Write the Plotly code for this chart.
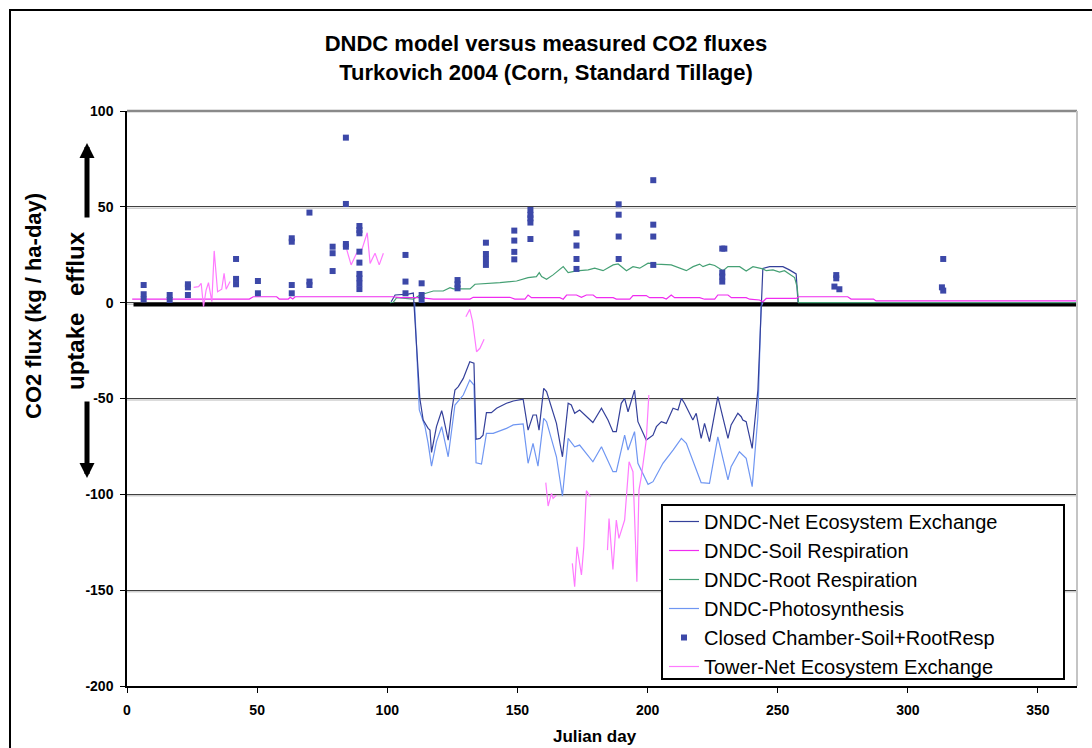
import plotly.graph_objects as go

# ---------------- data ----------------
# DNDC - Net Ecosystem Exchange
nee_day = [101.5, 103, 108, 110, 112.5, 113.8, 115.7, 116.4, 117, 118.9, 120.9, 121.5, 123.4, 124.7, 126, 127.3,
           129.2, 131.7, 133.3, 134.1, 135.6, 136.8, 138.1, 140, 142, 145.8, 148.4, 152.2, 154.1, 156, 157.3,
           158.3, 160.1, 161.2, 165, 167.3, 169.5, 170.7, 172, 173.9, 179, 182.3, 184.8, 186.7, 188, 189.9,
           191.2, 192.5, 195, 196.3, 199.5, 202.1, 203.4, 205.3, 207.2, 209.8, 211.7, 213, 214.2, 217.4,
           218.7, 220.6, 221.9, 223.8, 227, 230.9, 232.1, 234.7, 236, 236.6, 237.9, 240.2, 242.4, 243.6,
           244.3, 246.9, 252, 254.5, 256.5, 257.1, 257.8]
nee_val = [0.5, 4.0, 4.5, 5.0, -49.9, -61.2, -65.6, -66.5, -78.1, -64.7, -56.4, -59.5, -71.7, -56.9, -45.6, -43.8,
           -39.5, -30.8, -31.6, -71.3, -70.8, -69.1, -57.4, -57.4, -55.1, -52.5, -51.3, -50.4, -66.5, -58.6, -58.6,
           -66.5, -44.7, -46.4, -63.0, -80.4, -52.5, -53.4, -57.7, -56.0, -62.5, -55.1, -61.2, -67.3, -67.3, -52.5,
           -49.9, -56.9, -45.6, -62.1, -71.7, -69.1, -64.7, -62.1, -63.0, -55.1, -56.0, -49.9, -52.5, -61.2,
           -57.7, -70.8, -63.0, -72.5, -49.0, -70.8, -63.8, -57.7, -59.5, -61.2, -62.1, -76.0, -45.6, -2.1,
           17.9, 18.8, 18.8, 17.1, 15.4, 15.0, 0.3]

# DNDC - Soil Respiration
soil_day = [2, 47, 48.5, 57.5, 58.5, 62, 62.7, 63.7, 64.6, 102, 105, 112.6, 117.7, 131.8, 133, 147.1, 149, 152.9,
            154.1, 155.4, 166.3, 167.6, 168.9, 172.7, 174.6, 176.5, 179.1, 180.4, 186.8, 188, 193.2, 194.4,
            199.5, 200.8, 205.9, 207.2, 209.1, 210.4, 220, 221.9, 225.8, 227, 230.9, 232.2, 237.9, 239.2,
            243, 244.3, 245.6, 257.1, 258.1, 276.9, 278.2, 286.8, 287.8, 365]
soil_val = [1.9, 1.9, 3.1, 3.1, 1.9, 1.9, 2.8, 1.9, 3.1, 3.1, 2.6, 2.6, 1.9, 1.9, 2.8, 2.8, 1.9, 1.9,
            4.0, 2.6, 2.6, 1.8, 4.0, 4.0, 2.8, 4.0, 4.0, 2.6, 2.6, 1.9, 1.9, 3.7,
            3.7, 2.6, 2.6, 1.9, 4.0, 2.6, 2.6, 1.8, 1.8, 4.0, 4.0, 2.6, 2.6, 1.8,
            1.4, 0.5, 2.2, 2.2, 3.1, 3.1, 1.9, 1.9, 0.9, 0.9]

# DNDC - Root Respiration
root_day = [101, 102.3, 103.6, 110, 112.6, 117.7, 121.5, 124.1, 125.4, 131.8, 133.7, 142, 143.3, 149.7, 152.2,
            154.1, 157.3, 158.4, 159.3, 161.2, 163.7, 167.6, 169.5, 172.7, 177.2, 179.7, 182.9, 186.8, 188.7,
            191.9, 194.4, 197, 200.2, 203.4, 209.1, 212.3, 214.9, 217.5, 220, 221.3, 223.8, 225.8, 229,
            230.9, 235.4, 237.9, 240.5, 244.3, 245.6, 248.2, 250.7, 252.6, 254.5, 256.5, 257.5, 258, 365]
root_val = [0, 0.2, 2.6, 1.9, 4.0, 6.1, 6.1, 7.8, 7.2, 7.2, 9.6, 10.1, 10.5, 11.3, 12.2,
            13.1, 13.6, 15.7, 13.6, 12.2, 14.5, 18.8, 15.7, 16.6, 17.1, 18.0, 16.7, 19.7, 20.2,
            16.7, 18.8, 18.0, 20.6, 20.1, 19.7, 18.0, 16.7, 18.8, 20.1, 18.8, 20.1, 19.4, 16.7,
            18.8, 18.8, 16.5, 18.8, 17.6, 16.7, 17.1, 16.0, 16.7, 14.8, 13.1, 8.0, 0, 0]

# DNDC - Photosynthesis
photo_day = [110.5, 112.3, 114.5, 115.7, 117, 118.9, 120.9, 123.4, 126, 129.2, 131.7, 133.3, 134.1, 136.2,
             138.1, 140.7, 145.8, 148.4, 152.2, 154.1, 156, 157.9, 160.1, 161.2, 165, 167.3, 169.5, 172,
             173.9, 179, 182.3, 186.7, 188, 191.2, 192.5, 195, 196.3, 200.2, 202.1, 205.9, 209.8, 213,
             214.9, 217.4, 220.6, 223.8, 227, 230.9, 232.1, 235.3, 236.6, 237.9, 240.2, 242.4, 243.6,
             244.3]
photo_val = [0, -56.0, -64.7, -73.4, -85.3, -72.5, -64.7, -80.4, -53.4, -48.2, -40.4, -43.0, -83.5, -84.2,
             -68.2, -68.2, -65.6, -63.8, -63.3, -83.8, -73.4, -85.3, -60.4, -62.1, -80.4, -100.9, -70.8, -75.2,
             -74.3, -83.0, -75.2, -88.2, -88.2, -69.1, -76.9, -67.3, -83.8, -94.8, -93.4, -83.8, -76.9, -70.8,
             -73.4, -82.1, -93.9, -94.3, -70.0, -92.5, -85.6, -77.8, -79.5, -81.2, -96.0, -59.5, -2.1,
             0]

# Closed Chamber - Soil+RootResp
cham_day = [6.4, 6.4, 6.4, 16.4, 16.4, 23.4, 23.4, 23.4, 41.9, 41.9, 41.9, 50.3, 50.3,
            63.3, 63.3, 63.3, 63.3, 70.1, 70.1, 70.1, 79.0, 79.0, 79.0, 84.1, 84.1, 84.1, 84.1,
            89.3, 89.3, 89.3, 89.3, 89.3, 89.3, 89.3, 89.3, 89.3, 107.0, 107.0, 107.0,
            113.2, 113.2, 113.2, 127.0, 127.0, 127.0, 137.9, 137.9, 137.9, 137.9,
            148.8, 148.8, 148.8, 148.8, 155.0, 155.0, 155.0, 155.0, 155.0,
            172.7, 172.7, 172.7, 172.7, 188.9, 188.9, 188.9, 188.9, 202.2, 202.2, 202.2, 202.2,
            228.7, 229.5, 228.7, 228.7, 228.7, 272.5, 272.5, 271.8, 273.7, 313.6, 313.1, 313.6]
cham_val = [9.2, 4.4, 1.7, 4.0, 1.4, 9.6, 8.0, 4.0, 22.8, 12.4, 9.6, 11.3, 4.9,
            33.6, 31.8, 9.2, 4.9, 47.0, 11.0, 9.2, 29.2, 25.8, 16.5, 86.1, 51.5, 30.6, 29.2,
            40.0, 37.9, 36.2, 26.6, 20.9, 15.0, 12.7, 10.1, 7.1, 24.9, 11.0, 4.9,
            10.1, 4.0, 1.4, 11.8, 9.6, 7.5, 31.3, 25.4, 22.6, 19.7,
            37.6, 32.4, 26.5, 22.6, 48.4, 45.8, 44.0, 41.8, 33.2,
            36.2, 29.8, 22.8, 17.6, 51.3, 45.9, 34.5, 22.8, 63.9, 40.7, 34.5, 19.7,
            28.2, 28.2, 15.7, 13.6, 11.0, 14.4, 12.7, 8.4, 7.0, 22.8, 8.0, 6.3]

# Tower - Net Ecosystem Exchange (None = gap between measurement periods)
tower_day = [25.6, 27.5, 28.5, 29.4, 30.4, 31.3, 32.6, 33.5, 34.8, 36.4, 37.3, 38.1, 39.6, None,
             84.4, 86.1, 88.2, 90.2, 92.3, 93.4, 95.3, 96.9, 98.5, None,
             130.2, 131.7, 132.8, 134.3, 135.6, 137.2, None,
             160.9, 161.8, 163.1, 163.7, 165.0, None,
             171.1, 172.0, 172.9, 173.9, 174.6, 175.5, 176.5, 178.0, None,
             184.6, 185.2, 186.7, 188.0, 189.0, 189.9, 191.2, 192.9, 194.4, 195.9, 196.7, 197.6, 199.5, 200.5]
tower_val = [8.0, 8.4, 10.1, -2.1, 6.6, 10.4, 0.5, 27.0, 5.7, 7.0, 15.3, 7.0, 11.0, None,
             27.8, 19.7, 25.8, 27.5, 36.5, 20.5, 25.8, 19.7, 25.8, None,
             -7.3, -3.5, -9.9, -25.6, -23.8, -19.1, None,
             -93.9, -106.1, -99.5, -102.1, -100.4, None,
             -136.0, -148.2, -127.4, -136.0, -142.1, -127.4, -98.1, -101.2, None,
             -129.1, -112.6, -139.2, -113.4, -123.0, -118.7, -113.4, -83.0, -88.2, -145.6, -97.8, -90.8, -71.7, -48.2]

# heavy zero reference line drawn in the original chart
base_day = [2.5, 365]
base_val = [-1.1, -1.1]

x_ticks = [0, 50, 100, 150, 200, 250, 300, 350]
x_labels = ["0", "50", "100", "150", "200", "250", "300", "350"]
y_ticks = [-200, -150, -100, -50, 0, 50, 100]
y_labels = ["-200", "-150", "-100", "-50", "0", "50", "100"]

# ---------------- figure ----------------
W, H = 1092, 748
L, R, T, B = 127, 15, 111, 62
PW, PH = W - L - R, H - T - B


def px(xp):
    return (xp - L) / PW


def py(yp):
    return (H - B - yp) / PH


FONT = "Arial, Liberation Sans, sans-serif"

fig = go.Figure()
fig.add_trace(go.Scatter(x=base_day, y=base_val, mode="lines", line=dict(color="black", width=3.5),
                         showlegend=False, hoverinfo="skip"))
fig.add_trace(go.Scatter(x=photo_day, y=photo_val, mode="lines", name="DNDC-Photosynthesis",
                         line=dict(color="#6f96f2", width=1.2), legendrank=4))
fig.add_trace(go.Scatter(x=nee_day, y=nee_val, mode="lines", name="DNDC-Net Ecosystem Exchange",
                         line=dict(color="#34409a", width=1.2), legendrank=1))
fig.add_trace(go.Scatter(x=root_day, y=root_val, mode="lines", name="DNDC-Root Respiration",
                         line=dict(color="#45a074", width=1.2), legendrank=3))
fig.add_trace(go.Scatter(x=soil_day, y=soil_val, mode="lines", name="DNDC-Soil Respiration",
                         line=dict(color="#f02cf0", width=1.2), legendrank=2))
fig.add_trace(go.Scatter(x=tower_day, y=tower_val, mode="lines", name="Tower-Net Ecosystem Exchange",
                         line=dict(color="#ff7aff", width=1.2), connectgaps=False, legendrank=6))
fig.add_trace(go.Scatter(x=cham_day, y=cham_val, mode="markers", name="Closed Chamber-Soil+RootResp",
                         marker=dict(symbol="square", size=6, color="#3c48a8"), legendrank=5))

shapes = [
    # light shadow under gridlines
    *[dict(type="line", xref="paper", yref="y", x0=0, x1=1, y0=v - 0.8, y1=v - 0.8,
           line=dict(color="#cfcfcf", width=1.5), layer="below") for v in [50, 0, -50, -100, -150]],
    # top and right frame of plot area
    dict(type="line", xref="paper", yref="paper", x0=0, x1=1, y0=1, y1=1, line=dict(color="#8a8a8a", width=2.5)),
    dict(type="line", xref="paper", yref="paper", x0=1, x1=1, y0=0, y1=1, line=dict(color="#c4c4c4", width=2)),
    # legend box
    dict(type="rect", xref="paper", yref="paper", x0=px(662), x1=px(1064), y0=py(679), y1=py(505),
         line=dict(color="black", width=2), fillcolor="white", layer="above"),
    # outer chart border
    dict(type="rect", xref="paper", yref="paper", x0=px(10), x1=px(1100), y0=py(760), y1=py(10),
         line=dict(color="black", width=2), fillcolor="rgba(0,0,0,0)"),
]

BOLD = dict(family=FONT, color="black", weight="bold")
annotations = [
    dict(text="CO2 flux (kg / ha-day)", xref="paper", yref="paper", x=px(33), y=py(306), textangle=-90,
         showarrow=False, font=dict(BOLD, size=22), xanchor="center", yanchor="middle"),
    dict(text="efflux", xref="paper", yref="paper", x=px(75), y=py(264), textangle=-90,
         showarrow=False, font=dict(BOLD, size=24), xanchor="center", yanchor="middle"),
    dict(text="uptake", xref="paper", yref="paper", x=px(75), y=py(352), textangle=-90,
         showarrow=False, font=dict(BOLD, size=24), xanchor="center", yanchor="middle"),
    dict(text="", xref="paper", yref="paper", x=px(87), y=py(143), ax=0, ay=76,
         showarrow=True, arrowhead=2, arrowsize=0.6, arrowwidth=5, arrowcolor="black"),
    dict(text="", xref="paper", yref="paper", x=px(87), y=py(478), ax=0, ay=-78,
         showarrow=True, arrowhead=2, arrowsize=0.6, arrowwidth=5, arrowcolor="black"),
    dict(text="Julian day", xref="paper", yref="paper", x=px(595), y=py(736), showarrow=False,
         font=dict(BOLD, size=17), xanchor="center", yanchor="middle"),
]

fig.update_layout(
    width=W, height=H,
    margin=dict(l=L, r=R, t=T, b=B, pad=0),
    paper_bgcolor="white", plot_bgcolor="white",
    title=dict(text="DNDC model versus measured CO2 fluxes<br>Turkovich 2004 (Corn, Standard Tillage)",
               x=0.5, xref="container", xanchor="center", y=1 - 51 / H, yref="container", yanchor="middle",
               font=dict(BOLD, size=22)),
    xaxis=dict(range=[0, 365], tickvals=x_ticks, ticktext=x_labels, showgrid=False, zeroline=False,
               showline=True, linecolor="black", linewidth=1.5, ticks="outside", ticklen=5, tickcolor="black",
               ticklabelstandoff=5, tickfont=dict(BOLD, size=14)),
    yaxis=dict(range=[-200, 100], tickvals=y_ticks, ticktext=y_labels, showgrid=True, gridcolor="#404040",
               gridwidth=1, zeroline=False, showline=True, linecolor="black", linewidth=1.5, ticks="outside",
               ticklen=5, tickcolor="black", ticklabelstandoff=4, tickfont=dict(BOLD, size=14)),
    legend=dict(x=px(664), y=py(502), xanchor="left", yanchor="top", bgcolor="rgba(0,0,0,0)",
                borderwidth=0, font=dict(family=FONT, size=20, color="black"),
                tracegroupgap=0, itemwidth=30),
    shapes=shapes,
    annotations=annotations,
    showlegend=True,
)

fig.write_html("out.html")
